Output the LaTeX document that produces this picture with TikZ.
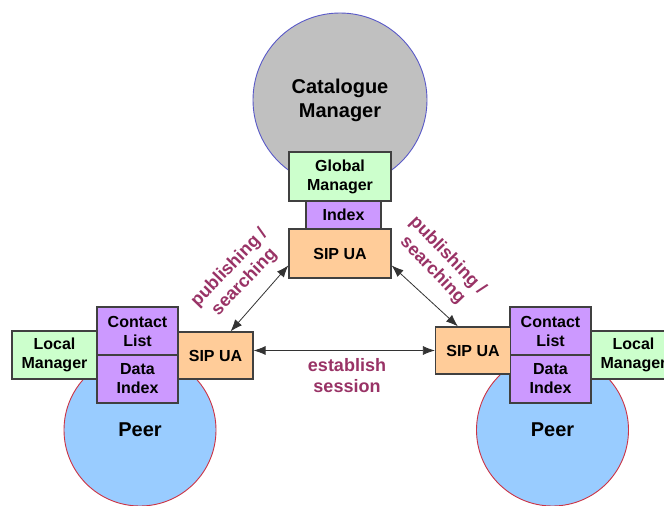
\documentclass[tikz,border=0pt]{standalone}
\usepackage{fontspec}
\setmainfont{Liberation Sans}
\usetikzlibrary{arrows.meta}

\begin{document}
\begin{tikzpicture}[
  x=1pt, y=-1pt,
  every node/.style={inner sep=0pt},
  box/.style={draw=boxline, line width=1.2pt, align=center,
              font=\boxfont, minimum height=48pt},
  mgrbox/.style={box, fill=mgrfill},
  listbox/.style={box, fill=listfill},
  sipbox/.style={box, fill=sipfill},
  peer/.style={circle, draw=peerline, fill=peerfill, line width=0.9pt,
               minimum size=152pt, font=\bigfont},
  link/.style={{Latex[length=12pt,width=9pt]}-{Latex[length=12pt,width=9pt]},
               draw=black!80, line width=0.8pt},
  note/.style={text=notecol, font=\notefont, align=center},
]

\definecolor{catfill}{RGB}{192,192,192}
\definecolor{catline}{RGB}{90,90,200}
\definecolor{peerfill}{RGB}{153,204,255}
\definecolor{peerline}{RGB}{204,51,68}
\definecolor{mgrfill}{RGB}{204,255,204}
\definecolor{listfill}{RGB}{204,153,255}
\definecolor{sipfill}{RGB}{255,204,153}
\definecolor{boxline}{RGB}{64,64,64}
\definecolor{notecol}{RGB}{153,51,102}

\def\boxfont{\fontsize{16}{19}\selectfont\bfseries}
\def\bigfont{\fontsize{20}{24}\selectfont\bfseries}
\def\notefont{\fontsize{18}{21}\selectfont\bfseries}

% page = 664 x 506, y grows downward
\fill[white] (0,0) rectangle (664,506);
\clip (0,0) rectangle (664,506);

% ============================================================
% CATALOGUE MANAGER (top)
% ============================================================
\node[circle, draw=catline, fill=catfill, line width=0.9pt,
      minimum size=174pt, font=\bigfont, align=center]
  (cat) at (340,100) {Catalogue\\Manager};

\node[mgrbox, minimum width=102pt, minimum height=49pt]
  (gm) at (340,176.5) {Global\\Manager};
\node[listbox, minimum width=75pt, minimum height=28pt]
  (idx) at (343.5,215) {Index};
\node[sipbox, minimum width=102pt, minimum height=49pt]
  (sipT) at (340,253.5) {SIP UA};

% ============================================================
% PEERS
% side, peer x, local mgr x, list x, sip x, sip y
% ============================================================
\foreach \s/\px/\lmx/\clx/\sx/\sy in {
  L/140/54.5/137.5/215.5/355.5,
  R/552.5/633.5/550.5/473/350.5}{
  \node[peer] (peer\s) at (\px,430) {Peer};
  \node[mgrbox, minimum width=85pt]
    (lm\s) at (\lmx,355) {Local\\Manager};
  \node[listbox, minimum width=81pt]
    (cl\s) at (\clx,331) {Contact\\List};
  \node[listbox, minimum width=81pt]
    (di\s) at (\clx,379) {Data\\Index};
  \node[sipbox, minimum width=75pt, minimum height=47pt]
    (sip\s) at (\sx,\sy) {SIP UA};
}

% ============================================================
% CONNECTORS
% ============================================================
\draw[link] (sipL.58) -- (sipT.193);
\draw[link] (sipR.122) -- (sipT.347);
\draw[link] (sipL.east |- sipR.west) -- (sipR.west);

\node[note, rotate=46] (pubL) at (237,275) {publishing /\\searching};
\node[note, rotate=-46] (pubR) at (440,263) {publishing /\\searching};
\node[note] (sess) at (347,376) {establish\\session};

\end{tikzpicture}
\end{document}
